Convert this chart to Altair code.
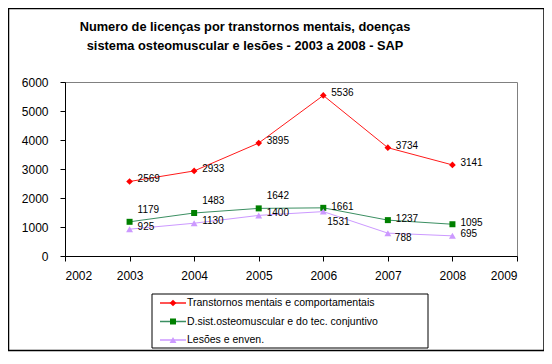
import altair as alt
import pandas as pd

years = [2003, 2004, 2005, 2006, 2007, 2008]
series = [
    "Transtornos mentais e comportamentais",
    "D.sist.osteomuscular e do tec. conjuntivo",
    "Lesões e enven.",
]
transtornos = [2569, 2933, 3895, 5536, 3734, 3141]
osteomuscular = [1179, 1483, 1642, 1661, 1237, 1095]
lesoes = [925, 1130, 1400, 1531, 788, 695]
x_ticks = [2002, 2003, 2004, 2005, 2006, 2007, 2008, 2009]
y_ticks = [0, 1000, 2000, 3000, 4000, 5000, 6000]
title_lines = [
    "Numero de licenças por transtornos  mentais, doenças",
    "sistema osteomuscular  e lesões - 2003 a 2008 - SAP",
]

line_colors = ["#ff1a1a", "#3b8f62", "#cc99ff"]
marker_colors = ["#ff0000", "#008000", "#cc99ff"]
marker_shapes = ["diamond", "square", "triangle-up"]
marker_sizes = [45, 36, 48]

rows = []
for name, vals in zip(series, [transtornos, osteomuscular, lesoes]):
    for yr, v in zip(years, vals):
        rows.append({"year": yr, "value": v, "series": name})
df = pd.DataFrame(rows)

FONT = "Liberation Sans"

x_enc = alt.X(
    "year:Q",
    scale=alt.Scale(domain=[2002, 2009], nice=False, zero=False),
    axis=alt.Axis(values=x_ticks, format="d", title=None, labelPadding=9),
)
y_enc = alt.Y(
    "value:Q",
    scale=alt.Scale(domain=[0, 6000], nice=False),
    axis=alt.Axis(values=y_ticks, format="d", title=None, labelPadding=12),
)

base = alt.Chart(df)

lines = base.mark_line(strokeWidth=1).encode(
    x=x_enc,
    y=y_enc,
    color=alt.Color("series:N", scale=alt.Scale(domain=series, range=line_colors), legend=None),
)

point_layers = []
for name, shp, col, sz in zip(series, marker_shapes, marker_colors, marker_sizes):
    point_layers.append(
        base.transform_filter(alt.datum.series == name)
        .mark_point(filled=True, opacity=1, shape=shp, color=col, size=sz)
        .encode(x=x_enc, y=y_enc)
    )


def labels(filter_expr, dx, dy):
    return base.transform_filter(filter_expr).mark_text(
        align="left", baseline="middle", dx=dx, dy=dy, fontSize=10, font=FONT, color="black"
    ).encode(x=x_enc, y=y_enc, text="value:Q")


s0, s1, s2 = series
label_layers = [
    labels(f"datum.series === '{s0}'", 8, -2),
    labels(f"datum.series === '{s1}' && datum.year <= 2005", 8, -12),
    labels(f"datum.series === '{s1}' && datum.year >= 2006", 8, -1),
    labels(f"datum.series === '{s2}' && datum.year !== 2006 && datum.year !== 2007", 8, -2),
    labels(f"datum.series === '{s2}' && datum.year === 2006", 4, 10),
    labels(f"datum.series === '{s2}' && datum.year === 2007", 7, 5),
]

one = alt.Data(values=[{}])

# ---- legend (drawn as marks, positioned in pixels relative to the plot) ----
legend_layers = [
    alt.Chart(one).mark_rect(fill="white", stroke="black", strokeWidth=1).encode(
        x=alt.value(87), x2=alt.value(363), y=alt.value(212), y2=alt.value(266)
    )
]
for i, (name, lc, mc, shp, sz) in enumerate(zip(series, line_colors, marker_colors, marker_shapes, marker_sizes)):
    ly = 221 + 18.5 * i
    entry = alt.Data(values=[{"series": name}])
    legend_layers.append(
        alt.Chart(entry).mark_rule(color=lc, strokeWidth=1.5).encode(
            x=alt.value(95), x2=alt.value(121), y=alt.value(ly)
        )
    )
    legend_layers.append(
        alt.Chart(entry).mark_point(filled=True, opacity=1, shape=shp, color=mc, size=sz).encode(
            x=alt.value(108), y=alt.value(ly)
        )
    )
    legend_layers.append(
        alt.Chart(entry).mark_text(
            align="left", baseline="middle", font=FONT, fontSize=10.5, color="black"
        ).encode(x=alt.value(122), y=alt.value(ly), text="series:N")
    )

frame = alt.Chart(one).mark_rect(
    fill="transparent", stroke="black", strokeWidth=1.5
).encode(
    x=alt.value(-56.5), x2=alt.value(479), y=alt.value(-73.5), y2=alt.value(268.5)
)

title = alt.Chart(one).mark_text(
    text=title_lines,
    font=FONT,
    fontSize=12.8,
    fontWeight="bold",
    lineHeight=19,
    align="center",
    baseline="alphabetic",
    color="black",
).encode(x=alt.value(180), y=alt.value(-51))

chart = alt.layer(lines, *point_layers, *label_layers, *legend_layers, frame, title).properties(
    width=452,
    height=174,
    autosize=alt.AutoSizeParams(type="none"),
    padding={"left": 57, "top": 74, "right": 27, "bottom": 96},
).configure_view(
    stroke="#808080", strokeWidth=1
).configure_axis(
    grid=False,
    domainColor="black",
    tickColor="black",
    tickSize=5,
    labelFont=FONT,
    labelFontSize=12,
    labelColor="black",
)

chart.save("out.html", embed_options={"renderer": "svg", "actions": False})
